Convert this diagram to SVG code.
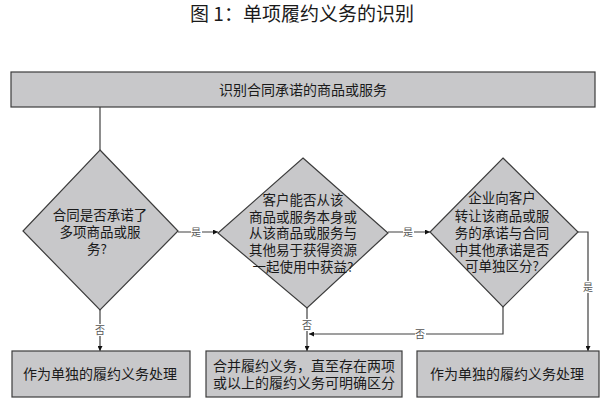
<svg xmlns="http://www.w3.org/2000/svg" width="605" height="401" viewBox="0 0 605 401">
<defs>
<style>
.box{fill:#c8c8ca;stroke:#3c3c3c;stroke-width:1.2}
.t{font-family:"Noto Sans CJK SC","Liberation Sans",sans-serif;font-size:14px;fill:#1a1a1a;text-anchor:middle}
.d{font-family:"Noto Sans CJK SC","Liberation Sans",sans-serif;font-size:13.5px;fill:#1a1a1a;text-anchor:middle}
.title{font-family:"Noto Sans CJK SC","Liberation Sans",sans-serif;font-size:19px;fill:#1a1a1a;text-anchor:middle}
.ln{fill:none;stroke:#404040;stroke-width:1.2}
.lb{font-family:"Noto Sans CJK SC","Liberation Sans",sans-serif;font-size:10px;fill:#555;text-anchor:middle}
.bg{fill:#ffffff}
</style>
<marker id="arr" viewBox="0 0 10 10" refX="10" refY="5" markerWidth="5" markerHeight="5" orient="auto" markerUnits="userSpaceOnUse">
<path d="M0,0 L10,5 L0,10 z" fill="#111"/>
</marker>
</defs>
<rect width="605" height="401" fill="#ffffff"/>
<text class="title" x="302" y="21">图 1：单项履约义务的识别</text>

<g id="connectors">
<path class="ln" d="M100,107 L100,150"/>
<path class="ln" d="M178,232 L218,232" marker-end="url(#arr)"/>
<path class="ln" d="M388,232 L430,232" marker-end="url(#arr)"/>
<path class="ln" d="M578,232 L588,232 L588,351" marker-end="url(#arr)"/>
<path class="ln" d="M100,310 L100,351" marker-end="url(#arr)"/>
<path class="ln" d="M307,308 L307,351" marker-end="url(#arr)"/>
<path class="ln" d="M503,307 L503,334 L309,334" marker-end="url(#arr)"/>
<rect class="bg" x="191" y="226" width="11" height="12"/>
<text class="lb" x="196" y="236">是</text>
<rect class="bg" x="403" y="226" width="11" height="12"/>
<text class="lb" x="408" y="236">是</text>
<rect class="bg" x="583" y="281" width="11" height="12"/>
<text class="lb" x="588" y="291">是</text>
<rect class="bg" x="95" y="324" width="11" height="12"/>
<text class="lb" x="100" y="334">否</text>
<rect class="bg" x="302" y="319" width="11" height="12"/>
<text class="lb" x="307" y="329">否</text>
<rect class="bg" x="415" y="328" width="11" height="12"/>
<text class="lb" x="420" y="338">否</text>
</g>

<g id="start">
<rect class="box" x="11" y="72" width="584" height="35"/>
<text class="t" x="303" y="95">识别合同承诺的商品或服务</text>
</g>

<g id="d1">
<polygon class="box" points="100,150 178,231 100,310 23,231"/>
<text class="d" x="100" y="220"><tspan x="100" y="220">合同是否承诺了</tspan><tspan x="100" y="237">多项商品或服</tspan><tspan x="97" y="254">务?</tspan></text>
</g>

<g id="d2">
<polygon class="box" points="303,158 388,233 307,308 218,233"/>
<text class="d" x="303" y="205"><tspan x="303" y="205">客户能否从该</tspan><tspan x="303" y="222">商品或服务本身或</tspan><tspan x="303" y="238">从该商品或服务与</tspan><tspan x="303" y="255">其他易于获得资源</tspan><tspan x="303" y="272">一起使用中获益?</tspan></text>
</g>

<g id="d3">
<polygon class="box" points="503,158 578,232 503,307 430,232"/>
<text class="d" x="502" y="203"><tspan x="502" y="203">企业向客户</tspan><tspan x="502" y="221">转让该商品或服</tspan><tspan x="502" y="238">务的承诺与合同</tspan><tspan x="502" y="255">中其他承诺是否</tspan><tspan x="502" y="271">可单独区分?</tspan></text>
</g>

<g id="r1">
<rect class="box" x="12" y="351" width="178" height="46"/>
<text class="t" x="100" y="379">作为单独的履约义务处理</text>
</g>

<g id="r2">
<rect class="box" x="206" y="351" width="196" height="46"/>
<text class="t" x="304" y="371"><tspan x="304" y="371">合并履约义务，直至存在两项</tspan><tspan x="304" y="388">或以上的履约义务可明确区分</tspan></text>
</g>

<g id="r3">
<rect class="box" x="417" y="351" width="182" height="46"/>
<text class="t" x="507" y="379">作为单独的履约义务处理</text>
</g>
</svg>
